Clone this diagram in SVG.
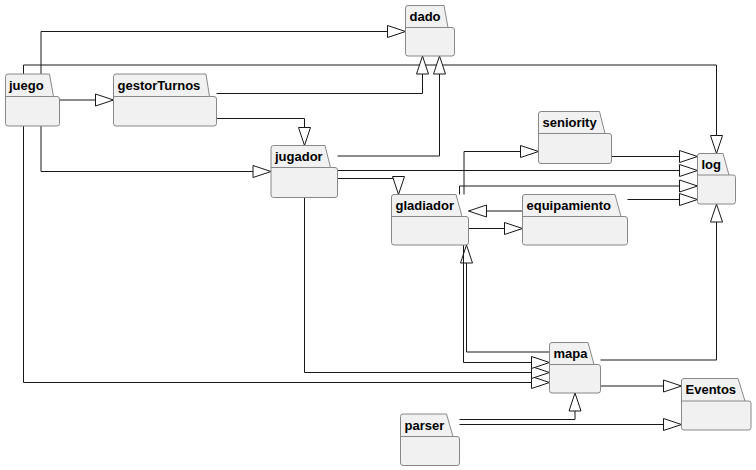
<svg xmlns="http://www.w3.org/2000/svg" width="756" height="470" viewBox="0 0 756 470">
  <style>
    .pkg path { fill: #F1F1F1; stroke: #888888; stroke-width: 1; }
    .pkg line { stroke: #888888; stroke-width: 1; }
    .pkg text { font-family: "Liberation Sans", Arial, sans-serif; font-weight: bold; font-size: 13px; fill: #000000; }
    .edges path { fill: none; stroke: #181818; stroke-width: 1; marker-end: url(#tri); }
  </style>
  <defs>
    <marker id="tri" viewBox="0 0 20 14" refX="19" refY="7" markerWidth="20" markerHeight="14" markerUnits="userSpaceOnUse" orient="auto">
      <path d="M1,1 L19,7 L1,13 Z" fill="#FFFFFF" stroke="#181818" stroke-width="1"/>
    </marker>
  </defs>
  <rect width="756" height="470" fill="#FFFFFF"/>

  <!-- connectors -->
  <g id="edges" class="edges">
    <path d="M41,74 V31.5 H405.5"/>
    <path d="M23.5,74 V65 H716.5 V153.5"/>
    <path d="M59.5,100 H113.5"/>
    <path d="M41,126 V171.5 H271"/>
    <path d="M23.5,126 V382.5 H549.5"/>
    <path d="M216.5,93.5 H422.5 V56"/>
    <path d="M216.5,118.5 H304.5 V145.5"/>
    <path d="M337.5,156 H439.5 V56"/>
    <path d="M337.5,170.5 H697.5"/>
    <path d="M337.5,178.5 H398.5 V194.5"/>
    <path d="M304.5,197.5 V372.5 H549.5"/>
    <path d="M611.5,156.5 H697.5"/>
    <path d="M464,194.5 V151.5 H538.5"/>
    <path d="M459.5,194.5 V186 H697.5"/>
    <path d="M468.5,228.5 H522.5"/>
    <path d="M522.5,211 H468.5"/>
    <path d="M627.5,199.5 H697.5"/>
    <path d="M549.5,352 H466.5 V245"/>
    <path d="M463.5,245 V362.5 H549.5"/>
    <path d="M600.5,360 H716.5 V204"/>
    <path d="M600.5,386 H681.5"/>
    <path d="M459.5,419.5 H575 V393"/>
    <path d="M459.5,424.5 H681.5"/>
  </g>

  <!-- packages -->
  <g id="dado" class="pkg">
    <path d="M405.5,8 Q405.5,5.5 408,5.5 L444,5.5 L448,27.5 L452,27.5 Q454.5,27.5 454.5,30 L454.5,53.5 Q454.5,56 452,56 L408,56 Q405.5,56 405.5,53.5 Z"/>
    <line x1="405.5" y1="27.5" x2="448" y2="27.5"/>
    <text x="409.5" y="21">dado</text>
  </g>
  <g id="juego" class="pkg">
    <path d="M5.5,76.5 Q5.5,74 8,74 L49.5,74 L53.5,96.5 L57,96.5 Q59.5,96.5 59.5,99 L59.5,123.5 Q59.5,126 57,126 L8,126 Q5.5,126 5.5,123.5 Z"/>
    <line x1="5.5" y1="96.5" x2="53.5" y2="96.5"/>
    <text x="9" y="90">juego</text>
  </g>
  <g id="gestorTurnos" class="pkg">
    <path d="M113.5,76.5 Q113.5,74 116,74 L206,74 L209.5,96.5 L214,96.5 Q216.5,96.5 216.5,99 L216.5,123.5 Q216.5,126 214,126 L116,126 Q113.5,126 113.5,123.5 Z"/>
    <line x1="113.5" y1="96.5" x2="209.5" y2="96.5"/>
    <text x="117.5" y="90">gestorTurnos</text>
  </g>
  <g id="jugador" class="pkg">
    <path d="M271,148 Q271,145.5 273.5,145.5 L325,145.5 L330.5,167.5 L335,167.5 Q337.5,167.5 337.5,170 L337.5,195 Q337.5,197.5 335,197.5 L273.5,197.5 Q271,197.5 271,195 Z"/>
    <line x1="271" y1="167.5" x2="330.5" y2="167.5"/>
    <text x="275" y="161">jugador</text>
  </g>
  <g id="seniority" class="pkg">
    <path d="M538.5,114 Q538.5,111.5 541,111.5 L599.5,111.5 L605,133.5 L609,133.5 Q611.5,133.5 611.5,136 L611.5,161 Q611.5,163.5 609,163.5 L541,163.5 Q538.5,163.5 538.5,161 Z"/>
    <line x1="538.5" y1="133.5" x2="605" y2="133.5"/>
    <text x="542.5" y="127">seniority</text>
  </g>
  <g id="log" class="pkg">
    <path d="M697.5,156 Q697.5,153.5 700,153.5 L723,153.5 L729,175 L733,175 Q735.5,175 735.5,177.5 L735.5,201.5 Q735.5,204 733,204 L700,204 Q697.5,204 697.5,201.5 Z"/>
    <line x1="697.5" y1="175" x2="729" y2="175"/>
    <text x="701.5" y="169">log</text>
  </g>
  <g id="gladiador" class="pkg">
    <path d="M391.5,197 Q391.5,194.5 394,194.5 L456,194.5 L462,216.5 L466,216.5 Q468.5,216.5 468.5,219 L468.5,242.5 Q468.5,245 466,245 L394,245 Q391.5,245 391.5,242.5 Z"/>
    <line x1="391.5" y1="216.5" x2="462" y2="216.5"/>
    <text x="395.5" y="210">gladiador</text>
  </g>
  <g id="equipamiento" class="pkg">
    <path d="M522.5,197 Q522.5,194.5 525,194.5 L615,194.5 L621,216.5 L625,216.5 Q627.5,216.5 627.5,219 L627.5,242.5 Q627.5,245 625,245 L525,245 Q522.5,245 522.5,242.5 Z"/>
    <line x1="522.5" y1="216.5" x2="621" y2="216.5"/>
    <text x="526.5" y="210">equipamiento</text>
  </g>
  <g id="mapa" class="pkg">
    <path d="M549.5,345 Q549.5,342.5 552,342.5 L588,342.5 L594,364.5 L598,364.5 Q600.5,364.5 600.5,367 L600.5,390.5 Q600.5,393 598,393 L552,393 Q549.5,393 549.5,390.5 Z"/>
    <line x1="549.5" y1="364.5" x2="594" y2="364.5"/>
    <text x="553.5" y="358">mapa</text>
  </g>
  <g id="Eventos" class="pkg">
    <path d="M681.5,381 Q681.5,378.5 684,378.5 L738,378.5 L745,401 L748.5,401 Q751,401 751,403.5 L751,427.5 Q751,430 748.5,430 L684,430 Q681.5,430 681.5,427.5 Z"/>
    <line x1="681.5" y1="401" x2="745" y2="401"/>
    <text x="685.5" y="394">Eventos</text>
  </g>
  <g id="parser" class="pkg">
    <path d="M400.5,416.5 Q400.5,414 403,414 L446.5,414 L453,436.5 L457,436.5 Q459.5,436.5 459.5,439 L459.5,463 Q459.5,465.5 457,465.5 L403,465.5 Q400.5,465.5 400.5,463 Z"/>
    <line x1="400.5" y1="436.5" x2="453" y2="436.5"/>
    <text x="404.5" y="430">parser</text>
  </g>
</svg>
